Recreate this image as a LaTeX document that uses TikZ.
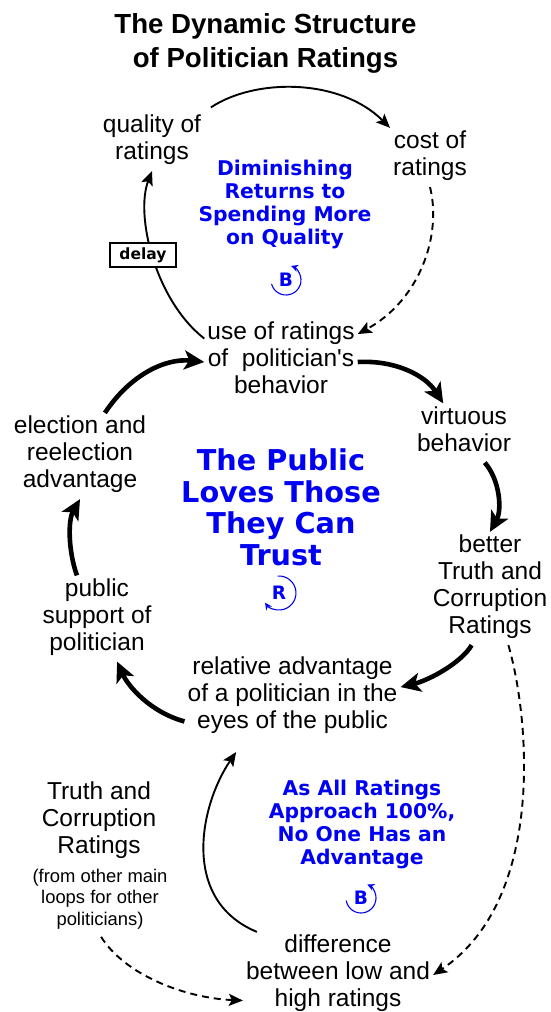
\documentclass[tikz,border=0pt]{standalone}
\usepackage{fontspec}
\setmainfont{Liberation Sans}[Ligatures=TeXOff]
\newfontfamily\verd{DejaVu Sans}
\usetikzlibrary{arrows.meta}
\definecolor{loopblue}{RGB}{0,0,245}
\begin{document}
\begin{tikzpicture}[x=1pt,y=-1pt,
  txt/.style={align=center, inner sep=3pt, font=\fontsize{24.5}{27}\selectfont,
    execute at begin node=\strut, execute at end node=\strut},
  note/.style={align=center, inner sep=3pt, font=\fontsize{18.4}{21.5}\selectfont,
    execute at begin node=\strut, execute at end node=\strut},
  heading/.style={align=center, inner sep=0pt, font=\bfseries\fontsize{27.6}{33.5}\selectfont,
    execute at begin node=\strut, execute at end node=\strut},
  loopname/.style={align=center, inner sep=0pt, text=loopblue,
    font=\verd\bfseries\fontsize{20.3}{23}\selectfont,
    execute at begin node=\strut, execute at end node=\strut},
  bigname/.style={align=center, inner sep=0pt, text=loopblue,
    font=\verd\bfseries\fontsize{28.7}{31.5}\selectfont,
    execute at begin node=\strut, execute at end node=\strut},
  loopletter/.style={inner sep=0pt, text=loopblue, font=\verd\bfseries\fontsize{18.5}{20}\selectfont},
  loopsym/.style={draw=loopblue, line width=1.1pt, -{Stealth[length=7pt,width=7pt]}},
  delaybox/.style={draw, fill=white, line width=1.4pt, inner sep=0pt, minimum width=66pt,
    minimum height=24pt, font=\verd\bfseries\fontsize{15.5}{16}\selectfont},
  thinarrow/.style={line width=1.9pt, -{Stealth[length=14pt,width=12pt,inset=3pt]}},
  dasharrow/.style={thinarrow, dash pattern=on 7pt off 5pt},
  thickarrow/.style={line width=4.6pt, -{Stealth[length=20pt,width=19pt,inset=5pt]}}
]
\useasboundingbox (0,0) rectangle (550,1012);

% nodes
\node[heading] (ttl) at (265.5,45.5) {The Dynamic Structure\\of Politician Ratings};
\node[txt] (qual) at (152,141.5) {quality of\\ratings};
\node[txt] (cost) at (430,157.5) {cost of\\ratings};
\node[loopname] (dimin) at (285,205.5) {Diminishing\\Returns to\\Spending More\\on Quality};
\node[txt] (use) at (281,362) {use of ratings\\of\ \ politician's\\behavior};
\node[txt] (virt) at (464,433) {virtuous\\behavior};
\node[txt] (elec) at (80,456) {election and\\reelection\\advantage};
\node[bigname] (trust) at (281,512) {The Public\\Loves Those\\They Can\\Trust};
\node[txt] (better) at (490,588.5) {better\\Truth and\\Corruption\\Ratings};
\node[txt] (pubsup) at (97,618.5) {public\\support of\\politician};
\node[txt] (rel) at (292.5,696.5) {relative advantage\\of a politician in the\\eyes of the public};
\node[loopname] (asall) at (362,825.5) {As All Ratings\\Approach 100\%,\\No One Has an\\Advantage};
\node[txt] (truthL) at (99,822) {Truth and\\Corruption\\Ratings};
\node[note] (note) at (100,900.5) {(from other main\\loops for other\\politicians)};
\node[txt] (diff) at (338,975) {difference\\between low and\\high ratings};

% loop symbols
\node[loopletter] (b1) at (286,280) {B};
\node[loopletter] (r1) at (279,593) {R};
\node[loopletter] (b2) at (361,898) {B};
\begin{scope}[shift={(b1.center)}, x=1pt, y=1pt]
  \draw[loopsym] (195:15) arc[start angle=195, end angle=430, radius=15];
\end{scope}
\begin{scope}[shift={(r1.center)}, x=1pt, y=1pt]
  \draw[loopsym] (95:17) arc[start angle=95, end angle=-145, radius=17];
\end{scope}
\begin{scope}[shift={(b2.center)}, x=1pt, y=1pt]
  \draw[loopsym] (190:15) arc[start angle=190, end angle=425, radius=15];
\end{scope}

% top balancing loop
\draw[thinarrow, shorten <=8pt] (qual.north east) .. controls (255,78) and (340,78) .. (cost.north west);
\draw[dasharrow] (cost.south) .. controls (442,235) and (420,300) .. (use.20);
\draw[thinarrow] (use.163) .. controls (155,300) and (135,215) .. (qual.south);
\node[delaybox] (delay) at (143,255) {delay};

% reinforcing loop
\draw[thickarrow] (use.east) .. controls (395,360) and (425,375) .. (virt.125);
\draw[thickarrow] (virt.-55) .. controls (500,480) and (502,510) .. (better.north);
\draw[thickarrow] (better.-108) .. controls (462,662) and (430,680) .. (rel.5);
\draw[thickarrow] (rel.193) .. controls (150,712) and (128,686) .. (pubsup.-65);
\draw[thickarrow] (pubsup.115) .. controls (68,550) and (68,520) .. (elec.south);
\draw[thickarrow] (elec.60) .. controls (130,375) and (165,358) .. (use.west);

% bottom balancing loop
\draw[dasharrow] (better.-72) .. controls (530,720) and (545,900) .. (diff.east);
\draw[thinarrow, shorten >=15pt] (diff.152) .. controls (180,900) and (200,805) .. (rel.-138);
\draw[dasharrow, shorten <=2pt] (note.south) .. controls (125,975) and (185,998) .. (diff.195);
\end{tikzpicture}
\end{document}
